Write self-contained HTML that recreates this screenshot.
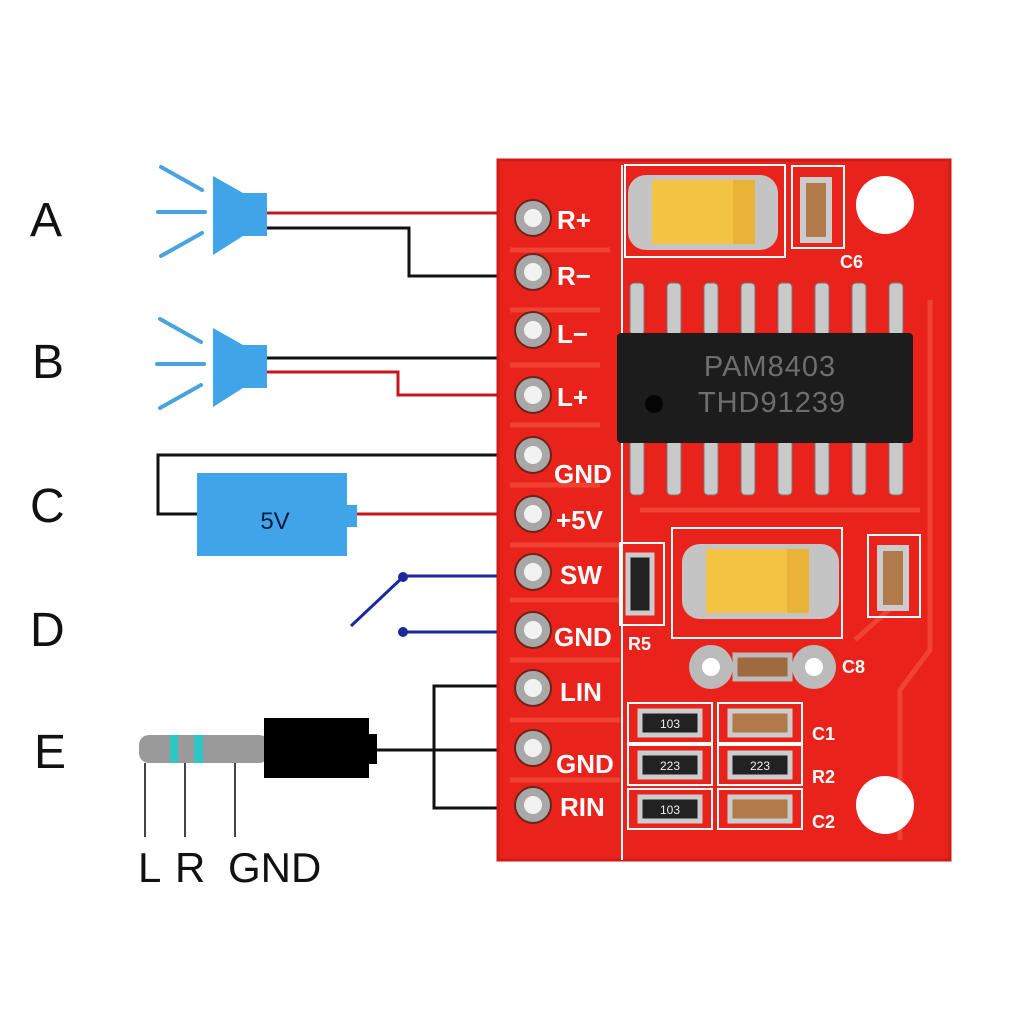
<!DOCTYPE html>
<html><head><meta charset="utf-8"><style>
html,body{margin:0;padding:0;background:#fff;}
svg{display:block;}
text{font-family:"Liberation Sans","DejaVu Sans",sans-serif;}
</style></head><body>
<svg width="1024" height="1024" viewBox="0 0 1024 1024" xmlns="http://www.w3.org/2000/svg">
<rect width="1024" height="1024" fill="#fff"/>
<g font-family="DejaVu Sans, sans-serif" font-size="48" fill="#111">
<text x="30" y="236">A</text>
<text x="32" y="378">B</text>
<text x="30" y="522">C</text>
<text x="30" y="646">D</text>
<text x="34" y="768">E</text>
</g>
<g fill="#3fa4e8" stroke="none">
<polygon points="213,176 243,193 267,193 267,236 243,236 213,255"/>
<polygon points="213,328 243,345 267,345 267,388 243,388 213,407"/>
</g>
<g stroke="#4aa3df" stroke-width="4" stroke-linecap="round">
<line x1="161" y1="167" x2="202" y2="190"/><line x1="158" y1="212" x2="205" y2="212"/><line x1="161" y1="256" x2="202" y2="233"/>
<line x1="160" y1="319" x2="201" y2="342"/><line x1="157" y1="364" x2="204" y2="364"/><line x1="160" y1="408" x2="201" y2="385"/>
</g>
<g fill="none" stroke-width="3">
<polyline points="267,213 500,213" stroke="#c4161c"/>
<polyline points="267,228 409,228 409,276 500,276" stroke="#111"/>
<polyline points="267,358 500,358" stroke="#111"/>
<polyline points="267,372 398,372 398,395 500,395" stroke="#c4161c"/>
<polyline points="500,455 158,455 158,514 198,514" stroke="#111"/>
<polyline points="357,514 500,514" stroke="#c4161c"/>
<polyline points="403,576 500,576" stroke="#1a2a9c"/>
<polyline points="403,632 500,632" stroke="#1a2a9c"/>
<line x1="351" y1="626" x2="403" y2="577" stroke="#1a2a9c"/>
<polyline points="376,750 434,750" stroke="#111"/>
<polyline points="500,686 434,686 434,808 500,808" stroke="#111"/>
<line x1="434" y1="750" x2="500" y2="750" stroke="#111"/>
</g>
<circle cx="403" cy="577" r="5" fill="#1a2a9c"/>
<circle cx="403" cy="632" r="5" fill="#1a2a9c"/>
<rect x="197" y="473" width="150" height="83" fill="#3fa4e8"/>
<rect x="346" y="505" width="11" height="22" fill="#3fa4e8"/>
<text x="275" y="529" font-size="24" fill="#0e1a40" text-anchor="middle" font-family="DejaVu Sans, sans-serif">5V</text>
<rect x="139" y="735" width="130" height="28" rx="10" fill="#9a9a9a"/>
<rect x="170" y="735" width="8" height="28" fill="#2cc6c6"/>
<rect x="194" y="735" width="9" height="28" fill="#2cc6c6"/>
<rect x="264" y="718" width="105" height="60" fill="#000"/>
<rect x="368" y="734" width="9" height="30" fill="#000"/>
<g stroke="#444" stroke-width="2"><line x1="145" y1="763" x2="145" y2="837"/><line x1="185" y1="763" x2="185" y2="837"/><line x1="235" y1="763" x2="235" y2="837"/></g>
<text x="138" y="882" font-size="42" fill="#111" font-family="DejaVu Sans, sans-serif">L</text>
<text x="175" y="882" font-size="42" fill="#111" font-family="DejaVu Sans, sans-serif">R</text>
<text x="228" y="882" font-size="42" fill="#111" font-family="DejaVu Sans, sans-serif">GND</text>
<rect x="498" y="160" width="452" height="700" fill="#e9231b"/>
<rect x="498" y="160" width="452" height="700" fill="none" stroke="#d01a14" stroke-width="3"/>
<g fill="none" stroke="#f24a3a" stroke-width="5" opacity="0.8">
<path d="M510 250 L610 250 M510 310 L600 310 M510 365 L600 365 M510 425 L600 425 M510 485 L600 485 M510 545 L620 545 M510 600 L620 600 M510 660 L620 660 M510 720 L620 720 M510 780 L620 780"/>
<path d="M930 300 L930 650 L900 690 L900 840 M640 510 L920 510 M855 640 L900 600"/>
</g>
<g fill="none" stroke="#fff" stroke-width="2">
<line x1="622" y1="165" x2="622" y2="860"/>
<rect x="625" y="165" width="160" height="92"/>
<rect x="792" y="166" width="52" height="82"/>
<rect x="620" y="543" width="44" height="82"/>
<rect x="672" y="528" width="170" height="110"/>
<rect x="868" y="535" width="52" height="82"/>
<rect x="628" y="703" width="84" height="40"/>
<rect x="628" y="745" width="84" height="40"/>
<rect x="628" y="789" width="84" height="40"/>
<rect x="718" y="703" width="84" height="40"/>
<rect x="718" y="745" width="84" height="40"/>
<rect x="718" y="789" width="84" height="40"/>
<line x1="912" y1="340" x2="912" y2="440"/>
</g>
<circle cx="885" cy="205" r="29" fill="#fff"/>
<circle cx="885" cy="805" r="29" fill="#fff"/>
<g fill="#a8a8a8" stroke="#6a2418" stroke-width="2">
<circle cx="533" cy="218" r="18"/><circle cx="533" cy="272" r="18"/><circle cx="533" cy="330" r="18"/><circle cx="533" cy="395" r="18"/><circle cx="533" cy="455" r="18"/><circle cx="533" cy="514" r="18"/><circle cx="533" cy="572" r="18"/><circle cx="533" cy="630" r="18"/><circle cx="533" cy="688" r="18"/><circle cx="533" cy="748" r="18"/><circle cx="533" cy="805" r="18"/>
</g>
<g fill="#f2f2f2">
<circle cx="533" cy="218" r="9"/><circle cx="533" cy="272" r="9"/><circle cx="533" cy="330" r="9"/><circle cx="533" cy="395" r="9"/><circle cx="533" cy="455" r="9"/><circle cx="533" cy="514" r="9"/><circle cx="533" cy="572" r="9"/><circle cx="533" cy="630" r="9"/><circle cx="533" cy="688" r="9"/><circle cx="533" cy="748" r="9"/><circle cx="533" cy="805" r="9"/>
</g>
<g font-size="26" font-weight="bold" fill="#fff">
<text x="557" y="229">R+</text><text x="557" y="285">R−</text><text x="557" y="343">L−</text><text x="557" y="406">L+</text>
<text x="554" y="483">GND</text><text x="556" y="529">+5V</text><text x="560" y="584">SW</text><text x="554" y="646">GND</text>
<text x="560" y="701">LIN</text><text x="556" y="773">GND</text><text x="560" y="816">RIN</text>
</g>
<g font-size="18" font-weight="bold" fill="#fff">
<text x="628" y="650">R5</text><text x="812" y="740">C1</text><text x="812" y="783">R2</text><text x="812" y="828">C2</text>
<text x="840" y="268">C6</text><text x="842" y="673">C8</text>
</g>
<g fill="#c9c9c9" stroke="#777" stroke-width="1">
<rect x="630" y="283" width="14" height="52" rx="4"/><rect x="667" y="283" width="14" height="52" rx="4"/><rect x="704" y="283" width="14" height="52" rx="4"/><rect x="741" y="283" width="14" height="52" rx="4"/><rect x="778" y="283" width="14" height="52" rx="4"/><rect x="815" y="283" width="14" height="52" rx="4"/><rect x="852" y="283" width="14" height="52" rx="4"/><rect x="889" y="283" width="14" height="52" rx="4"/>
<rect x="630" y="440" width="14" height="55" rx="4"/><rect x="667" y="440" width="14" height="55" rx="4"/><rect x="704" y="440" width="14" height="55" rx="4"/><rect x="741" y="440" width="14" height="55" rx="4"/><rect x="778" y="440" width="14" height="55" rx="4"/><rect x="815" y="440" width="14" height="55" rx="4"/><rect x="852" y="440" width="14" height="55" rx="4"/><rect x="889" y="440" width="14" height="55" rx="4"/>
</g>
<rect x="617" y="333" width="296" height="110" rx="4" fill="#1c1c1c"/>
<circle cx="654" cy="404" r="9" fill="#050505"/>
<text x="770" y="376" font-size="29" fill="#6e6e6e" text-anchor="middle" letter-spacing="1">PAM8403</text>
<text x="772" y="412" font-size="29" fill="#6e6e6e" text-anchor="middle" letter-spacing="1">THD91239</text>
<rect x="628" y="175" width="150" height="75" rx="18" fill="#c4c4c4"/>
<rect x="652" y="180" width="103" height="64" fill="#f3c443"/>
<rect x="733" y="180" width="22" height="64" fill="#e8b336"/>
<rect x="682" y="544" width="157" height="75" rx="18" fill="#c4c4c4"/>
<rect x="706" y="549" width="103" height="64" fill="#f3c443"/>
<rect x="787" y="549" width="22" height="64" fill="#e8b336"/>
<rect x="803" y="180" width="26" height="60" fill="#b07a4a" stroke="#ccc" stroke-width="6"/>
<rect x="880" y="548" width="26" height="60" fill="#b07a4a" stroke="#ccc" stroke-width="6"/>
<rect x="628" y="555" width="24" height="58" fill="#222" stroke="#ccc" stroke-width="5"/>
<circle cx="711" cy="667" r="22" fill="#bbb"/><circle cx="711" cy="667" r="9" fill="#fff"/>
<circle cx="814" cy="667" r="22" fill="#bbb"/><circle cx="814" cy="667" r="9" fill="#fff"/>
<rect x="735" y="655" width="55" height="24" fill="#a06a40" stroke="#bbb" stroke-width="5"/>
<g>
<rect x="640" y="711" width="60" height="24" fill="#222" stroke="#ccc" stroke-width="5"/>
<rect x="640" y="753" width="60" height="24" fill="#222" stroke="#ccc" stroke-width="5"/>
<rect x="640" y="797" width="60" height="24" fill="#222" stroke="#ccc" stroke-width="5"/>
<rect x="730" y="711" width="60" height="24" fill="#b07a4a" stroke="#ccc" stroke-width="5"/>
<rect x="730" y="753" width="60" height="24" fill="#222" stroke="#ccc" stroke-width="5"/>
<rect x="730" y="797" width="60" height="24" fill="#b07a4a" stroke="#ccc" stroke-width="5"/>
</g>
<g font-size="12" fill="#eee" text-anchor="middle"><text x="670" y="728">103</text><text x="670" y="770">223</text><text x="670" y="814">103</text><text x="760" y="770">223</text></g>
</svg>
</body></html>
